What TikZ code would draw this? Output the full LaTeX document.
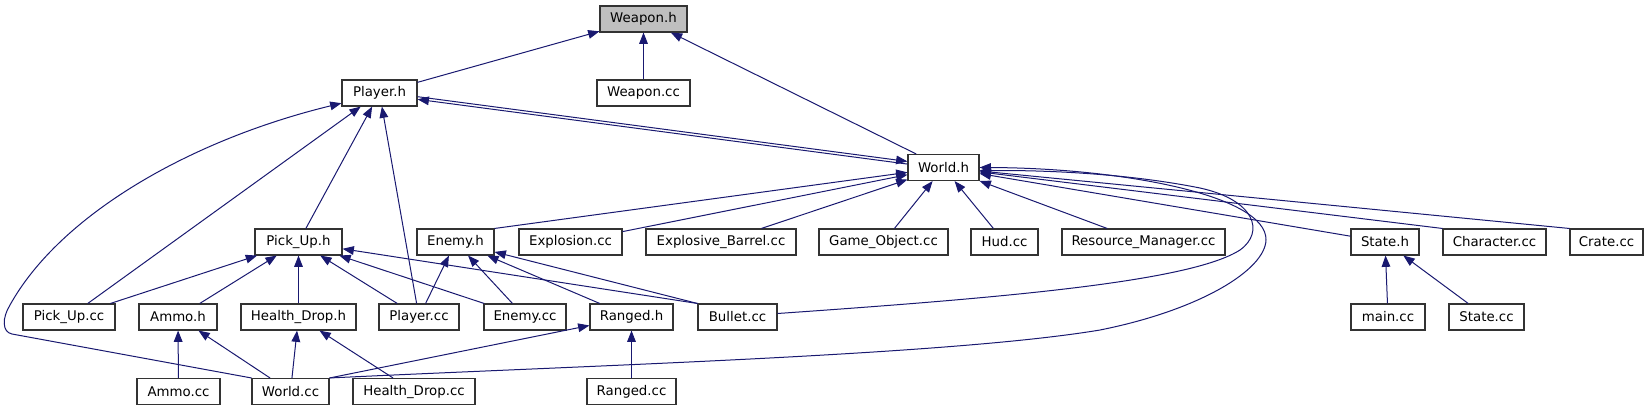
\documentclass[tikz,border=0pt]{standalone}
\usepackage{fontspec}
\setmainfont{DejaVu Sans}
\usepackage{tikz}
\usetikzlibrary{arrows.meta}
\definecolor{edgeblue}{HTML}{191970}
\definecolor{rootgray}{HTML}{BFBFBF}

\begin{document}
\begin{tikzpicture}[x=0.75pt,y=-0.75pt,
  box/.style={draw=black!80,line width=0.8pt,fill=white,inner sep=0pt,
    minimum height=19.5pt,minimum width=#1*0.75pt,font=\fontsize{10pt}{12pt}\selectfont},
  dep/.style={draw=edgeblue,line width=0.75pt,-{Triangle[length=8.5pt,width=6.5pt]}}]
  \useasboundingbox (0,0) rectangle (1651,411);

  % Headers on top
  \node[box=87,fill=rootgray] (weaponh) at (643.5,19) {Weapon.h};
  \node[box=75] (playerh) at (379.5,93) {Player.h};
  \node[box=93] (weaponcc) at (643.5,93) {Weapon.cc};
  \node[box=71] (worldh) at (943.5,167.5) {World.h};

  % Files that include World.h
  \node[box=87] (pickuph) at (298.5,242) {Pick\_Up.h};
  \node[box=77] (enemyh) at (455.5,242) {Enemy.h};
  \node[box=103] (explosioncc) at (570.5,242) {Explosion.cc};
  \node[box=150] (barrelcc) at (721,242) {Explosive\_Barrel.cc};
  \node[box=129] (gameobjcc) at (883.5,242) {Game\_Object.cc};
  \node[box=67] (hudcc) at (1004.5,242) {Hud.cc};
  \node[box=163] (resmgrcc) at (1143.5,242) {Resource\_Manager.cc};
  \node[box=68] (stateh) at (1385,242) {State.h};
  \node[box=103] (charactercc) at (1494.5,242) {Character.cc};
  \node[box=73] (cratecc) at (1606.5,242) {Crate.cc};

  % Second row from the bottom
  \node[box=92] (pickupcc) at (69,317) {Pick\_Up.cc};
  \node[box=78] (ammoh) at (178,317) {Ammo.h};
  \node[box=115] (healthdroph) at (298.5,317) {Health\_Drop.h};
  \node[box=80] (playercc) at (419,317) {Player.cc};
  \node[box=82] (enemycc) at (525,317) {Enemy.cc};
  \node[box=83] (rangedh) at (631.5,317) {Ranged.h};
  \node[box=79] (bulletcc) at (737.5,317) {Bullet.cc};
  \node[box=74] (maincc) at (1388,317) {main.cc};
  \node[box=75] (statecc) at (1486.5,317) {State.cc};

  % Bottom row
  \node[box=83] (ammocc) at (178.5,391.5) {Ammo.cc};
  \node[box=77] (worldcc) at (290.5,391.5) {World.cc};
  \node[box=122] (healthdropcc) at (414,391.5) {Health\_Drop.cc};
  \node[box=89] (rangedcc) at (631.5,391.5) {Ranged.cc};

  % Weapon.h
  \draw[dep] (playerh) -- (weaponh);
  \draw[dep] (weaponcc) -- (weaponh);
  \draw[dep] (worldh) -- (weaponh);

  % Player.h
  \draw[dep,transform canvas={yshift=1pt}] (playerh) -- (worldh);
  \draw[dep,transform canvas={yshift=-1pt}] (worldh) -- (playerh);
  \draw[dep] (pickupcc) -- (playerh);
  \draw[dep] (pickuph) -- (playerh);
  \draw[dep] (playercc) -- (playerh);
  \draw[dep] (worldcc.north west) -- (12,334) .. controls (2,332) and (2,318) .. (10,305)
    .. controls (60,215) and (190,140) .. (playerh.195);

  % World.h
  \draw[dep] (enemyh.north east) -- (worldh);
  \draw[dep] (explosioncc) -- (worldh);
  \draw[dep] (barrelcc) -- (worldh);
  \draw[dep] (gameobjcc) -- (worldh);
  \draw[dep] (hudcc) -- (worldh);
  \draw[dep] (resmgrcc) -- (worldh);
  \draw[dep] (stateh) -- (worldh);
  \draw[dep] (charactercc.north west) -- (worldh);
  \draw[dep] (cratecc.north west) -- (worldh);
  \draw[dep] (bulletcc.5) .. controls (1000,298) and (1190,282) .. (1240,250)
    .. controls (1265,232) and (1255,200) .. (1200,188)
    .. controls (1130,174) and (1050,170) .. (worldh.355);
  \draw[dep] (worldcc.north east) .. controls (600,365) and (950,355) .. (1100,330)
    .. controls (1200,310) and (1265,270) .. (1266,240)
    .. controls (1267,195) and (1120,168) .. (worldh.east);

  % Pick_Up.h
  \draw[dep] (pickupcc) -- (pickuph);
  \draw[dep] (ammoh) -- (pickuph);
  \draw[dep] (healthdroph) -- (pickuph);
  \draw[dep] (playercc) -- (pickuph);
  \draw[dep] (enemycc) -- (pickuph);
  \draw[dep] (bulletcc.north west) -- (pickuph);

  % Enemy.h
  \draw[dep] (playercc) -- (enemyh);
  \draw[dep] (enemycc) -- (enemyh);
  \draw[dep] (rangedh) -- (enemyh);
  \draw[dep] (bulletcc.north west) -- (enemyh);

  % Lower headers
  \draw[dep] (ammocc) -- (ammoh);
  \draw[dep] (worldcc) -- (ammoh);
  \draw[dep] (worldcc) -- (healthdroph);
  \draw[dep] (healthdropcc) -- (healthdroph);
  \draw[dep] (worldcc.north east) -- (rangedh);
  \draw[dep] (rangedcc) -- (rangedh);
  \draw[dep] (maincc) -- (stateh);
  \draw[dep] (statecc) -- (stateh);
\end{tikzpicture}
\end{document}
